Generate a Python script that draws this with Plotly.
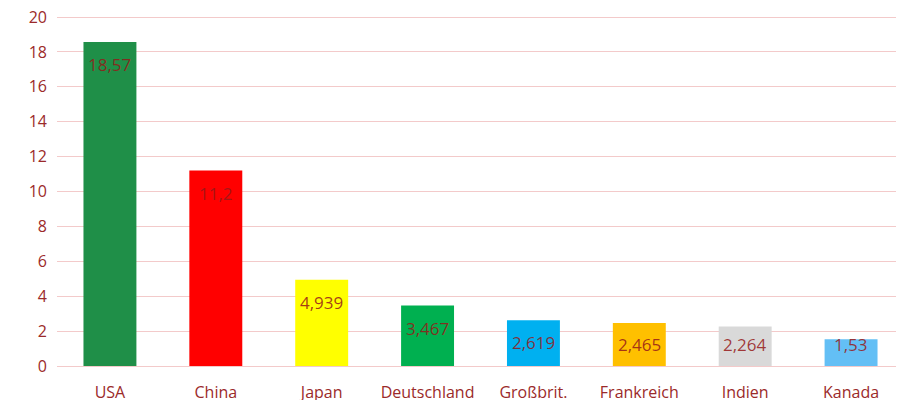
import plotly.graph_objects as go

countries = ["USA", "China", "Japan", "Deutschland", "Großbrit.", "Frankreich", "Indien", "Kanada"]
values = [18.57, 11.2, 4.939, 3.467, 2.619, 2.465, 2.264, 1.53]
bar_colors = ["#1f8f48", "#ff0000", "#ffff00", "#00b050", "#00b0f0", "#ffc000", "#d9d9d9", "#63bff5"]
y_ticks = [0, 2, 4, 6, 8, 10, 12, 14, 16, 18, 20]

label_color = "rgba(150,25,25,0.85)"
axis_color = "#9b2a2a"
font_family = "'Open Sans', Lato, sans-serif"

fig = go.Figure()
fig.add_trace(go.Bar(
    x=countries, y=values,
    marker=dict(color=bar_colors, line=dict(width=0)),
    hoverinfo="x+y",
))

for c, v in zip(countries, values):
    fig.add_annotation(
        x=c, y=max(v - 1.3, 1.25),
        text=f"{v:g}".replace(".", ","),
        showarrow=False, xanchor="center", yanchor="middle",
        font=dict(family=font_family, size=17, color=label_color),
    )

fig.update_layout(
    width=896, height=400,
    margin=dict(l=49, r=0, t=0, b=42),
    paper_bgcolor="white", plot_bgcolor="white",
    bargap=0.5,
    showlegend=False,
    font=dict(family=font_family, color=axis_color),
)
fig.update_xaxes(
    automargin=False, ticklabeloverflow="allow",
    showgrid=False, zeroline=False, showline=False,
    tickfont=dict(size=16, color=axis_color, family=font_family),
    ticks="", ticklabelstandoff=15,
)
fig.update_yaxes(
    automargin=False, ticklabeloverflow="allow",
    range=[0, 20.52], tickvals=y_ticks,
    showgrid=True, gridcolor="#f3caca", gridwidth=1,
    zeroline=True, zerolinecolor="#f3caca", zerolinewidth=1,
    showline=False, ticks="",
    tickfont=dict(size=16, color=axis_color, family=font_family),
    ticklabelstandoff=9,
)

fig.write_html("out.html")
